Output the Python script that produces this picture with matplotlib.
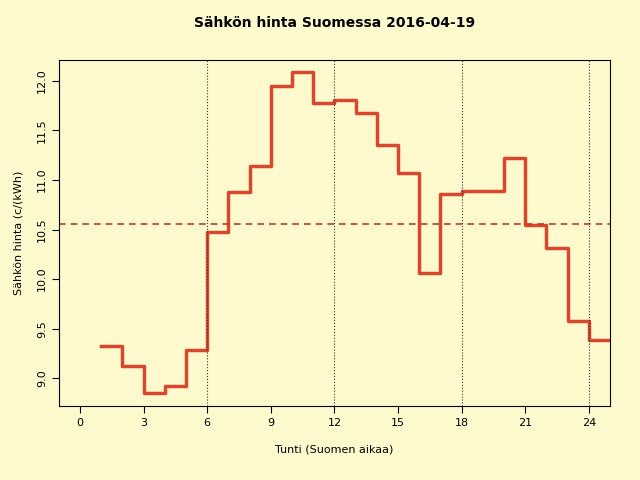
import matplotlib
matplotlib.use("Agg")
import matplotlib.pyplot as plt
import numpy as np

hours = list(range(1, 26))
price = [9.33, 9.12, 8.85, 8.92, 9.28, 10.48, 10.88, 11.14, 11.95, 12.09,
         11.78, 11.81, 11.68, 11.35, 11.07, 10.06, 10.86, 10.89, 10.89, 11.22,
         10.55, 10.31, 9.58, 9.39, 9.39]
mean_price = 10.56
xticks = list(range(0, 25, 3))
yticks = [9.0, 9.5, 10.0, 10.5, 11.0, 11.5, 12.0]

bg = "#fffacd"
fig = plt.figure(figsize=(6.4, 4.8), dpi=100, facecolor=bg)
ax = fig.add_axes([59/640, 74/480, 551/640, 346/480], facecolor=bg)

ax.step(hours + [26], price + [price[-1]], where="post", color="#d9472f", lw=2.5)
ax.axhline(mean_price, color="#c0392b", ls=(0, (4, 3)), lw=1.2)
for v in [6, 12, 18, 24]:
    ax.axvline(v, color="#333333", ls=":", lw=0.8)

ax.set_xlim(-0.99, 25.0)
ax.set_ylim(8.72, 12.21)
ax.set_xticks(xticks)
ax.set_yticks(yticks)
ax.set_yticklabels([f"{y:.1f}" for y in yticks], rotation=90, va="center")
ax.tick_params(labelsize=8, length=5)
ax.set_xlabel("Tunti (Suomen aikaa)", fontsize=8, labelpad=12)
ax.set_ylabel("Sähkön hinta (c/(kWh)", fontsize=8, labelpad=10)
ax.set_title("Sähkön hinta Suomessa 2016-04-19", fontsize=10, fontweight="bold", pad=24)
for s in ax.spines.values():
    s.set_linewidth(0.8)

fig.savefig("out.png", dpi=100, facecolor=bg)
